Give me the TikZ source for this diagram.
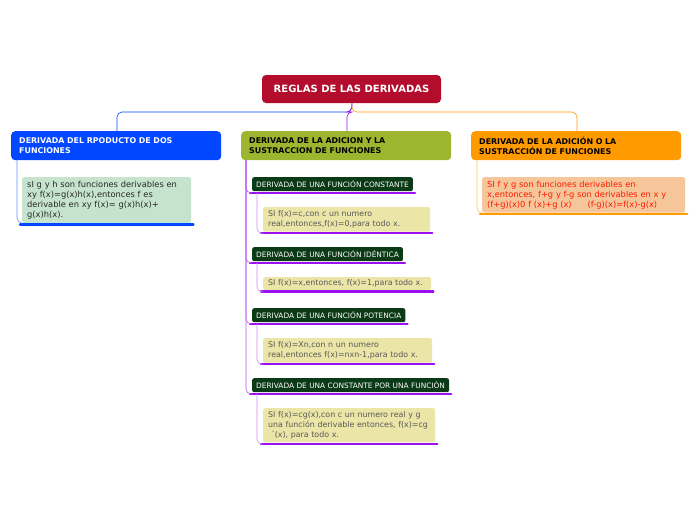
\documentclass[tikz,border=0pt]{standalone}
\usepackage{fontspec}
\setmainfont{DejaVu Sans}
\definecolor{rootred}{HTML}{B30C2C}
\definecolor{mainblue}{HTML}{0047FF}
\definecolor{mainolive}{HTML}{9DB52F}
\definecolor{mainorange}{HTML}{FF9A00}
\definecolor{subgreen}{HTML}{0B3A16}
\definecolor{leafgreen}{HTML}{C6E4CD}
\definecolor{leafyellow}{HTML}{EBE5A7}
\definecolor{leaforange}{HTML}{F6C69B}
\definecolor{lineviolet}{HTML}{9B10F0}
\tikzset{
  mainbox/.style={anchor=north west, rounded corners=4, inner xsep=8pt, inner ysep=0pt, minimum height=29, minimum width=210, text width=194, align=left, font=\fontsize{7.9}{9.8}\selectfont\bfseries},
  subbox/.style={anchor=north west, rounded corners=2, fill=subgreen, text=white, inner xsep=4pt, inner ysep=0pt, minimum height=14, font=\fontsize{7.4}{8}\selectfont},
  leafbox/.style={anchor=north west, rounded corners=2, inner xsep=5pt, inner ysep=3.5pt, align=left, font=\fontsize{7.9}{9.8}\selectfont},
  smallleaf/.style={leafbox, text width=#1, fill=leafyellow, text=black!65},
  bigleaf/.style={leafbox, text width=#1, font=\fontsize{8.3}{10.2}\selectfont},
  link/.style={line width=0.6pt, rounded corners=5},
}
\newcommand\barunder[3]{\draw[#3, line width=2.2pt, line cap=round] ([xshift=-2pt,yshift=-1.5pt]#1.south west) -- ([xshift=#2,yshift=-1.5pt]#1.south east);}
\begin{document}
\begin{tikzpicture}[x=1pt,y=-1pt]
\useasboundingbox (0,0) rectangle (696,520);
% root
\node[fill=rootred, text=white, rounded corners=4, minimum width=179, minimum height=28, font=\fontsize{10}{12}\selectfont\bfseries] (root) at (351.5,89) {REGLAS DE LAS DERIVADAS};
% main branches
\node[mainbox, fill=mainblue, text=white] (prod) at (11,131) {DERIVADA DEL RPODUCTO DE DOS\\FUNCIONES};
\node[mainbox, fill=mainolive, text=black] (sum) at (241,131) {DERIVADA DE LA ADICION Y LA\\SUSTRACCION DE FUNCIONES};
\node[mainbox, fill=mainorange, text=black] (add) at (471,131) {DERIVADA DE LA ADICIÓN O LA\\SUSTRACCIÓN DE FUNCIONES};
\draw[link, mainblue] (root.south) -- (352,112) -| (117,131);
\draw[link, lineviolet] (352,103) -- (352,112) -| (347,131);
\draw[link, mainorange] (root.south) -- (352,112) -| (577,131);
% leaves of the outer branches
\node[bigleaf=159, fill=leafgreen, text=black!85] (prodleaf) at (22,177) {sI g y h son funciones derivables en\\xy f(x)=g(x)h(x),entonces f es\\derivable en xy f(x)= g(x)h(x)+\\g(x)h(x).};
\barunder{prodleaf}{2pt}{mainblue}
\draw[link, mainblue!60] (17,160) |- (prodleaf.south west);
\node[bigleaf=193, fill=leaforange, text=red!80!orange] (addleaf) at (482,177) {SI f y g son funciones derivables en\\x,entonces, f+g y f-g son derivables en x y\\(f+g)(x)0 f (x)+g (x)\hspace{16pt}(f-g)(x)=f(x)-g(x)};
\barunder{addleaf}{2pt}{mainorange}
\draw[link, mainorange!60] (477,160) |- (addleaf.south west);
% sub topics
\node[subbox] (const) at (252,177) {DERIVADA DE UNA FUNCIÓN CONSTANTE};
\node[subbox] (ident) at (252,247) {DERIVADA DE UNA FUNCIÓN IDÉNTICA};
\node[subbox] (poten) at (252,308) {DERIVADA DE UNA FUNCIÓN POTENCIA};
\node[subbox] (cfunc) at (252,378) {DERIVADA DE UNA CONSTANTE POR UNA FUNCIÓN};
\foreach \s in {const,ident,poten,cfunc} {
  \barunder{\s}{2pt}{lineviolet}
  \draw[link, lineviolet!70] (246,160) |- ([yshift=-1.5pt]\s.south west);
}
\node[smallleaf=157] (constleaf) at (263,207) {SI f(x)=c,con c un numero\\real,entonces,f(x)=0,para todo x.};
\node[smallleaf=158, inner ysep=2.5pt] (identleaf) at (263,277) {SI f(x)=x,entonces, f(x)=1,para todo x.};
\node[smallleaf=159] (potenleaf) at (263,338) {SI f(x)=Xn,con n un numero\\real,entonces f(x)=nxn-1,para todo x.};
\node[smallleaf=162] (cfuncleaf) at (263,408) {SI f(x)=cg(x),con c un numero real y g\\una función derivable entonces, f(x)=cg\\\ \textasciiacute(x), para todo x.};
\foreach \s in {const,ident,poten,cfunc} {
  \barunder{\s leaf}{2pt}{lineviolet}
  \draw[link, lineviolet!50] ([xshift=5pt,yshift=-1.5pt]\s.south west) |- ([yshift=-1.5pt]\s leaf.south west);
}
\end{tikzpicture}
\end{document}
